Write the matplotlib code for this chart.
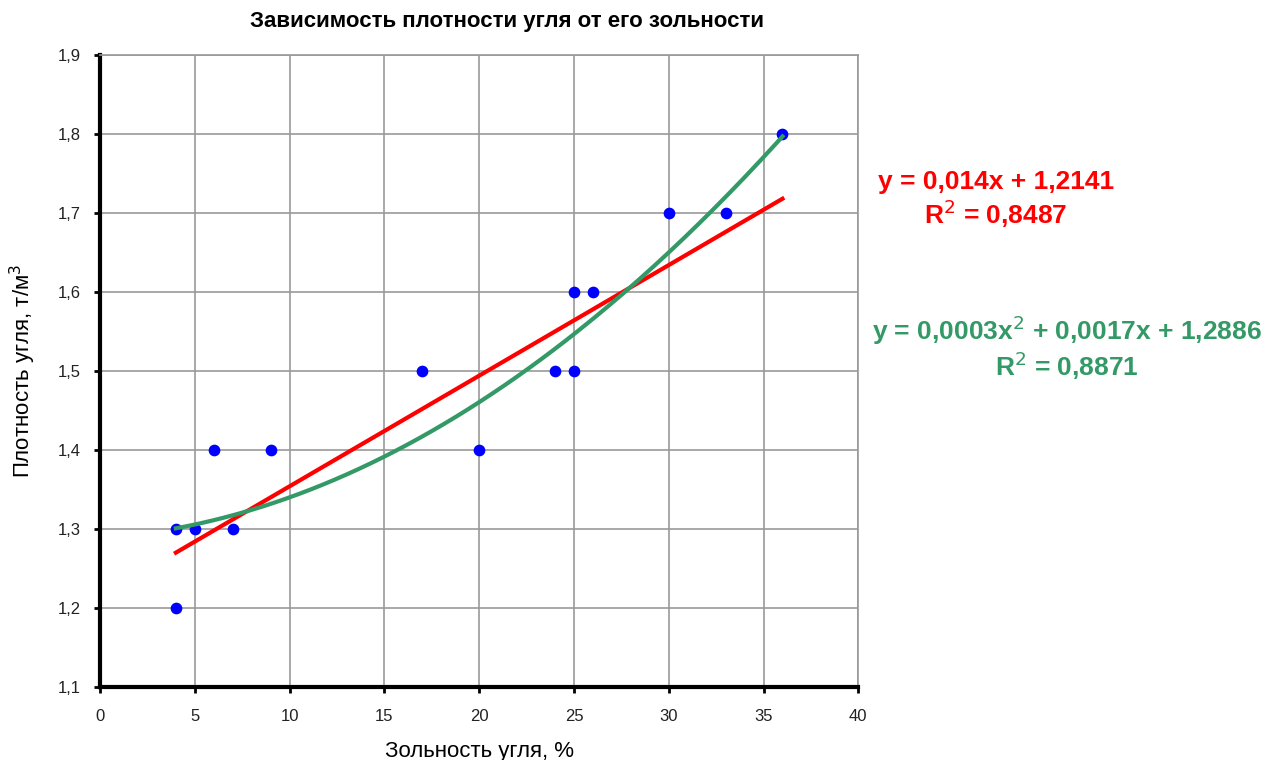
import matplotlib
matplotlib.use("Agg")
import matplotlib.pyplot as plt
import numpy as np

plt.rcParams['font.family'] = ['Liberation Sans', 'DejaVu Sans']

# Зольность, % и плотность, т/м3
ash = [4, 4, 5, 6, 7, 9, 17, 20, 24, 25, 25, 26, 30, 33, 36]
density = [1.3, 1.2, 1.3, 1.4, 1.3, 1.4, 1.5, 1.4, 1.5, 1.5, 1.6, 1.6, 1.7, 1.7, 1.8]

# trendline coefficients (highest power first), as drawn on the chart
lin_coef = [0.014, 1.2141]
poly_coef = [0.000345, 0.0017, 1.2886]

x_ticks = [0, 5, 10, 15, 20, 25, 30, 35, 40]
y_ticks = [1.1, 1.2, 1.3, 1.4, 1.5, 1.6, 1.7, 1.8, 1.9]

lin_label = "y = 0,014x + 1,2141"
lin_r2 = "R$^2$ = 0,8487"
poly_label = "y = 0,0003x$^2$ + 0,0017x + 1,2886"
poly_r2 = "R$^2$ = 0,8871"

x = np.array(ash, dtype=float)
y = np.array(density)
xs = np.linspace(x.min(), x.max(), 200)

fig = plt.figure(figsize=(12.68, 7.6), dpi=100)
ax = fig.add_axes([0.0789, 0.096, 0.598, 0.8316])

ax.grid(True, color="#999999", linewidth=1.2)
ax.set_axisbelow(True)
ax.scatter(x, y, s=55, color="#0000ff", zorder=3)
ax.plot(xs, np.polyval(lin_coef, xs), color="#ff0000", lw=3, zorder=4)
ax.plot(xs, np.polyval(poly_coef, xs), color="#339966", lw=3, zorder=4)

ax.set_xlim(0, 40)
ax.set_ylim(1.1, 1.9)
ax.set_xticks(x_ticks)
ax.set_yticks(y_ticks)
ax.set_xticklabels([str(t) for t in x_ticks], fontsize=12, color="#222222")
ax.set_yticklabels([f"{t:.1f}".replace(".", ",") for t in y_ticks], fontsize=12,
                   color="#222222")
ax.tick_params(direction="out", length=4, width=2)
ax.tick_params(axis="x", pad=12)
ax.tick_params(axis="y", pad=10)

for side in ("left", "bottom"):
    ax.spines[side].set_linewidth(3)
    ax.spines[side].set_color("black")
for side in ("right", "top"):
    ax.spines[side].set_linewidth(1.2)
    ax.spines[side].set_color("#999999")

ax.set_xlabel("Зольность угля, %", fontsize=16, labelpad=12)
ax.set_ylabel("Плотность угля, т/м$^3$", fontsize=16, labelpad=14)
fig.suptitle("Зависимость плотности угля от его зольности", fontsize=16,
             fontweight="bold", x=0.40, y=0.985)

fig.text(996 / 1268, 1 - 182 / 760, lin_label, color="#ff0000", fontsize=19,
         fontweight="bold", ha="center", va="center")
fig.text(996 / 1268, 1 - 214 / 760, lin_r2, color="#ff0000", fontsize=19,
         fontweight="bold", ha="center", va="center")
fig.text(1067 / 1268, 1 - 330 / 760, poly_label, color="#339966", fontsize=19,
         fontweight="bold", ha="center", va="center")
fig.text(1067 / 1268, 1 - 366 / 760, poly_r2, color="#339966", fontsize=19,
         fontweight="bold", ha="center", va="center")

fig.savefig("out.png", dpi=100)
